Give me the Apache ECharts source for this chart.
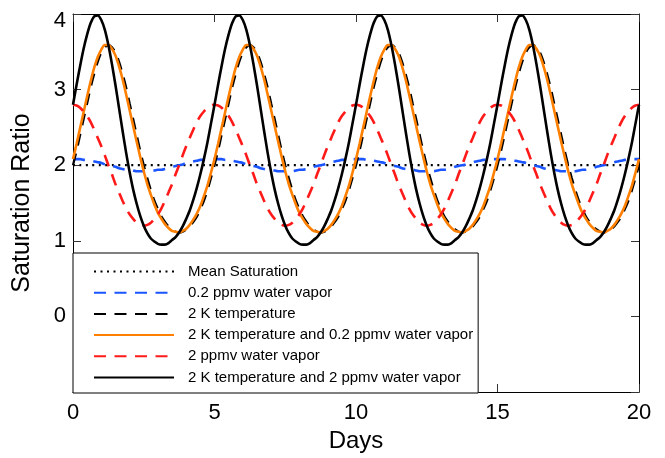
<!DOCTYPE html>
<html>
<head>
<meta charset="utf-8">
<script src="https://cdn.jsdelivr.net/npm/echarts@6/dist/echarts.min.js"></script>
<style>html,body{margin:0;padding:0;background:#fff}#c{width:665px;height:458px}</style>
</head>
<body>
<div id="c"></div>
<script>
const seriesNames = [
  'Mean Saturation',
  '0.2 ppmv water vapor',
  '2 K temperature',
  '2 K temperature and 0.2 ppmv water vapor',
  '2 ppmv water vapor',
  '2 K temperature and 2 ppmv water vapor'
];
const xTicks = [0, 5, 10, 15, 20];
const yTicks = [0, 1, 2, 3, 4];

const days = [
  0,0.125,0.25,0.375,0.5,0.625,0.75,0.875,1,1.125,1.25,1.375,1.5,1.625,1.75,1.875,2,2.125,2.25,2.375,2.5,2.625,2.75,2.875,3,3.125,3.25,3.375,3.5,3.625,3.75,3.875,4,4.125,4.25,4.375,4.5,4.625,4.75,4.875,
  5,5.125,5.25,5.375,5.5,5.625,5.75,5.875,6,6.125,6.25,6.375,6.5,6.625,6.75,6.875,7,7.125,7.25,7.375,7.5,7.625,7.75,7.875,8,8.125,8.25,8.375,8.5,8.625,8.75,8.875,9,9.125,9.25,9.375,9.5,9.625,9.75,9.875,
  10,10.125,10.25,10.375,10.5,10.625,10.75,10.875,11,11.125,11.25,11.375,11.5,11.625,11.75,11.875,12,12.125,12.25,12.375,12.5,12.625,12.75,12.875,13,13.125,13.25,13.375,13.5,13.625,13.75,13.875,14,14.125,14.25,14.375,14.5,14.625,14.75,14.875,
  15,15.125,15.25,15.375,15.5,15.625,15.75,15.875,16,16.125,16.25,16.375,16.5,16.625,16.75,16.875,17,17.125,17.25,17.375,17.5,17.625,17.75,17.875,18,18.125,18.25,18.375,18.5,18.625,18.75,18.875,19,19.125,19.25,19.375,19.5,19.625,19.75,19.875,
  20
];

const meanDays = [0, 20];
const meanSaturation = [2, 2];

const vapor02 = [
  2.08,2.08,2.08,2.07,2.07,2.06,2.05,2.04,2.03,2.01,2.00,1.99,1.98,1.96,1.95,1.94,1.94,1.93,1.92,1.92,1.92,1.92,1.92,1.93,1.94,1.94,1.95,1.96,1.98,1.99,2.00,2.01,2.03,2.04,2.05,2.06,2.07,2.07,2.08,2.08,
  2.08,2.08,2.08,2.07,2.07,2.06,2.05,2.04,2.03,2.01,2.00,1.99,1.98,1.96,1.95,1.94,1.94,1.93,1.92,1.92,1.92,1.92,1.92,1.93,1.94,1.94,1.95,1.96,1.98,1.99,2.00,2.01,2.03,2.04,2.05,2.06,2.07,2.07,2.08,2.08,
  2.08,2.08,2.08,2.07,2.07,2.06,2.05,2.04,2.03,2.01,2.00,1.99,1.98,1.96,1.95,1.94,1.94,1.93,1.92,1.92,1.92,1.92,1.92,1.93,1.94,1.94,1.95,1.96,1.98,1.99,2.00,2.01,2.03,2.04,2.05,2.06,2.07,2.07,2.08,2.08,
  2.08,2.08,2.08,2.07,2.07,2.06,2.05,2.04,2.03,2.01,2.00,1.99,1.98,1.96,1.95,1.94,1.94,1.93,1.92,1.92,1.92,1.92,1.92,1.93,1.94,1.94,1.95,1.96,1.98,1.99,2.00,2.01,2.03,2.04,2.05,2.06,2.07,2.07,2.08,2.08,
  2.08
];

const temp2K = [
  2.00,2.19,2.40,2.61,2.82,3.03,3.21,3.37,3.49,3.56,3.59,3.56,3.49,3.37,3.21,3.03,2.82,2.61,2.40,2.19,2.00,1.83,1.67,1.53,1.42,1.32,1.25,1.19,1.15,1.12,1.11,1.12,1.15,1.19,1.25,1.32,1.42,1.53,1.67,1.83,
  2.00,2.19,2.40,2.61,2.82,3.03,3.21,3.37,3.49,3.56,3.59,3.56,3.49,3.37,3.21,3.03,2.82,2.61,2.40,2.19,2.00,1.83,1.67,1.53,1.42,1.32,1.25,1.19,1.15,1.12,1.11,1.12,1.15,1.19,1.25,1.32,1.42,1.53,1.67,1.83,
  2.00,2.19,2.40,2.61,2.82,3.03,3.21,3.37,3.49,3.56,3.59,3.56,3.49,3.37,3.21,3.03,2.82,2.61,2.40,2.19,2.00,1.83,1.67,1.53,1.42,1.32,1.25,1.19,1.15,1.12,1.11,1.12,1.15,1.19,1.25,1.32,1.42,1.53,1.67,1.83,
  2.00,2.19,2.40,2.61,2.82,3.03,3.21,3.37,3.49,3.56,3.59,3.56,3.49,3.37,3.21,3.03,2.82,2.61,2.40,2.19,2.00,1.83,1.67,1.53,1.42,1.32,1.25,1.19,1.15,1.12,1.11,1.12,1.15,1.19,1.25,1.32,1.42,1.53,1.67,1.83,
  2.00
];

const temp2KVapor02 = [
  2.08,2.28,2.49,2.70,2.91,3.11,3.29,3.43,3.53,3.59,3.59,3.54,3.45,3.31,3.14,2.94,2.73,2.52,2.31,2.11,1.92,1.75,1.61,1.48,1.37,1.29,1.22,1.17,1.13,1.12,1.11,1.13,1.16,1.21,1.28,1.36,1.46,1.59,1.73,1.90,
  2.08,2.28,2.49,2.70,2.91,3.11,3.29,3.43,3.53,3.59,3.59,3.54,3.45,3.31,3.14,2.94,2.73,2.52,2.31,2.11,1.92,1.75,1.61,1.48,1.37,1.29,1.22,1.17,1.13,1.12,1.11,1.13,1.16,1.21,1.28,1.36,1.46,1.59,1.73,1.90,
  2.08,2.28,2.49,2.70,2.91,3.11,3.29,3.43,3.53,3.59,3.59,3.54,3.45,3.31,3.14,2.94,2.73,2.52,2.31,2.11,1.92,1.75,1.61,1.48,1.37,1.29,1.22,1.17,1.13,1.12,1.11,1.13,1.16,1.21,1.28,1.36,1.46,1.59,1.73,1.90,
  2.08,2.28,2.49,2.70,2.91,3.11,3.29,3.43,3.53,3.59,3.59,3.54,3.45,3.31,3.14,2.94,2.73,2.52,2.31,2.11,1.92,1.75,1.61,1.48,1.37,1.29,1.22,1.17,1.13,1.12,1.11,1.13,1.16,1.21,1.28,1.36,1.46,1.59,1.73,1.90,
  2.08
];

const vapor2 = [
  2.80,2.79,2.76,2.71,2.65,2.57,2.47,2.36,2.25,2.13,2.00,1.88,1.75,1.64,1.53,1.43,1.35,1.29,1.24,1.21,1.20,1.21,1.24,1.29,1.35,1.43,1.53,1.64,1.75,1.88,2.00,2.13,2.25,2.36,2.47,2.57,2.65,2.71,2.76,2.79,
  2.80,2.79,2.76,2.71,2.65,2.57,2.47,2.36,2.25,2.13,2.00,1.88,1.75,1.64,1.53,1.43,1.35,1.29,1.24,1.21,1.20,1.21,1.24,1.29,1.35,1.43,1.53,1.64,1.75,1.88,2.00,2.13,2.25,2.36,2.47,2.57,2.65,2.71,2.76,2.79,
  2.80,2.79,2.76,2.71,2.65,2.57,2.47,2.36,2.25,2.13,2.00,1.88,1.75,1.64,1.53,1.43,1.35,1.29,1.24,1.21,1.20,1.21,1.24,1.29,1.35,1.43,1.53,1.64,1.75,1.88,2.00,2.13,2.25,2.36,2.47,2.57,2.65,2.71,2.76,2.79,
  2.80,2.79,2.76,2.71,2.65,2.57,2.47,2.36,2.25,2.13,2.00,1.88,1.75,1.64,1.53,1.43,1.35,1.29,1.24,1.21,1.20,1.21,1.24,1.29,1.35,1.43,1.53,1.64,1.75,1.88,2.00,2.13,2.25,2.36,2.47,2.57,2.65,2.71,2.76,2.79,
  2.80
];

const temp2KVapor2 = [
  2.80,3.06,3.31,3.54,3.73,3.88,3.97,3.98,3.92,3.79,3.59,3.34,3.06,2.76,2.46,2.17,1.91,1.68,1.49,1.33,1.20,1.10,1.03,0.99,0.96,0.95,0.95,0.97,1.01,1.05,1.11,1.19,1.29,1.40,1.54,1.70,1.88,2.08,2.30,2.55,
  2.80,3.06,3.31,3.54,3.73,3.88,3.97,3.98,3.92,3.79,3.59,3.34,3.06,2.76,2.46,2.17,1.91,1.68,1.49,1.33,1.20,1.10,1.03,0.99,0.96,0.95,0.95,0.97,1.01,1.05,1.11,1.19,1.29,1.40,1.54,1.70,1.88,2.08,2.30,2.55,
  2.80,3.06,3.31,3.54,3.73,3.88,3.97,3.98,3.92,3.79,3.59,3.34,3.06,2.76,2.46,2.17,1.91,1.68,1.49,1.33,1.20,1.10,1.03,0.99,0.96,0.95,0.95,0.97,1.01,1.05,1.11,1.19,1.29,1.40,1.54,1.70,1.88,2.08,2.30,2.55,
  2.80,3.06,3.31,3.54,3.73,3.88,3.97,3.98,3.92,3.79,3.59,3.34,3.06,2.76,2.46,2.17,1.91,1.68,1.49,1.33,1.20,1.10,1.03,0.99,0.96,0.95,0.95,0.97,1.01,1.05,1.11,1.19,1.29,1.40,1.54,1.70,1.88,2.08,2.30,2.55,
  2.80
];

const FONT = "'Liberation Sans', Arial, Helvetica, sans-serif";
const pairs = (xs, ys) => xs.map((x, i) => [x, ys[i]]);

const chart = echarts.init(document.getElementById('c'), null, {renderer: 'canvas'});

const axisLine = {show: true, onZero: false, lineStyle: {color: '#000', width: 1}};
const tick = {show: true, inside: true, length: 8, lineStyle: {color: '#333', width: 1}};

function mkLine(name, data, color, width, type, z) {
  return {
    name: name, type: 'line', data: data, showSymbol: false, symbol: 'none',
    smooth: 0.3, clip: true, z: z, animation: false,
    lineStyle: {color: color, width: width, type: type},
    itemStyle: {color: color}
  };
}

chart.setOption({
  animation: false,
  backgroundColor: '#fff',
  grid: {left: 73, right: 26, top: 14, bottom: 66, containLabel: false},
  xAxis: [
    {
      type: 'value', min: 0, max: 20, interval: 5, position: 'bottom',
      axisLine: axisLine, axisTick: tick, splitLine: {show: false},
      axisLabel: {color: '#000', fontSize: 22, fontFamily: FONT, margin: 10,
        formatter: v => xTicks.includes(v) ? String(v) : ''},
      name: 'Days', nameLocation: 'middle', nameGap: 36,
      nameTextStyle: {color: '#000', fontSize: 24, fontFamily: FONT}
    },
    {
      type: 'value', min: 0, max: 20, interval: 5, position: 'top',
      axisLine: axisLine, axisTick: tick, axisLabel: {show: false}, splitLine: {show: false}
    }
  ],
  yAxis: [
    {
      type: 'value', min: -1, max: 4, interval: 1, position: 'left',
      axisLine: axisLine, axisTick: tick, splitLine: {show: false},
      axisLabel: {color: '#000', fontSize: 22, fontFamily: FONT, margin: 7,
        formatter: v => yTicks.includes(v) ? (v === 4 ? '{top|4}' : String(v)) : '',
        rich: {top: {fontSize: 22, fontFamily: FONT, color: '#000', padding: [13, 0, 0, 0]}}},
      name: 'Saturation Ratio', nameLocation: 'middle', nameGap: 38, nameRotate: 90,
      nameTextStyle: {color: '#000', fontSize: 25, fontFamily: FONT}
    },
    {
      type: 'value', min: -1, max: 4, interval: 1, position: 'right',
      axisLine: axisLine, axisTick: tick, axisLabel: {show: false}, splitLine: {show: false}
    }
  ],
  legend: {
    orient: 'vertical', left: 73, top: 253,
    data: seriesNames,
    itemWidth: 80, itemHeight: 14, itemGap: 6.2,
    padding: [11, 5, 8, 20],
    backgroundColor: '#fff', borderColor: '#000', borderWidth: 1,
    itemStyle: {opacity: 0},
    textStyle: {color: '#000', fontSize: 15, lineHeight: 14, fontFamily: FONT, padding: [0, 0, 0, 9]},
    selectedMode: false
  },
  series: [
    mkLine(seriesNames[0], pairs(meanDays, meanSaturation), '#000', 2.2, [2, 4.5], 2),
    mkLine(seriesNames[1], pairs(days, vapor02), '#1a55ff', 2.6, [12, 8.5], 3),
    mkLine(seriesNames[2], pairs(days, temp2K), '#000', 2.3, [12, 8.5], 4),
    mkLine(seriesNames[3], pairs(days, temp2KVapor02), '#ff8000', 2.6, 'solid', 5),
    mkLine(seriesNames[4], pairs(days, vapor2), '#ff1a1a', 2.6, [12, 8.5], 6),
    mkLine(seriesNames[5], pairs(days, temp2KVapor2), '#000', 2.6, 'solid', 7)
  ]
});
</script>
</body>
</html>
